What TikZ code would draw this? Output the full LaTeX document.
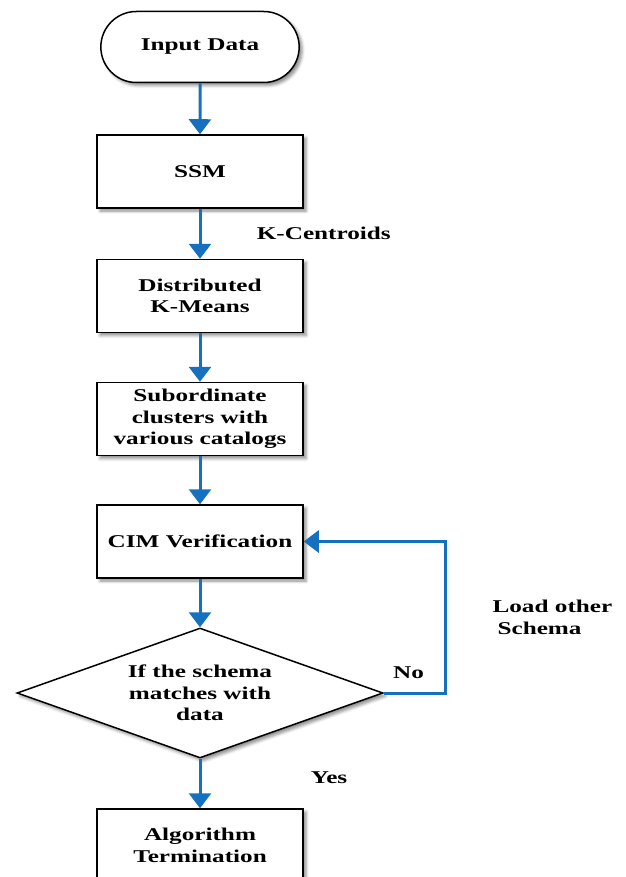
\documentclass[tikz,border=0pt]{standalone}
\usepackage{fontspec}
\setmainfont[FakeStretch=1.4]{Liberation Serif}
\usetikzlibrary{arrows.meta,shapes.geometric,shapes.misc,shadows.blur}
\definecolor{flowblue}{RGB}{22,112,192}

\begin{document}
\begin{tikzpicture}[
		x = 1pt, y = -1pt,
		flow/.style = {draw = flowblue, line width = 3pt, -{Triangle[width = 22pt, length = 15pt]}},
		shade/.style = {blur shadow = {shadow xshift = 3pt, shadow yshift = -3pt, shadow blur radius = 3pt, shadow opacity = 45}},
		block/.style = {draw, line width = 1.5pt, fill = white, minimum width = 206pt, minimum height = 73pt, align = center, shade},
		every node/.style = {font = \fontsize{18}{21.5}\selectfont\bfseries, node distance = 124.5pt}
	]

	\clip (0,0) rectangle (625,877);

	\node (input) [rounded rectangle, draw, line width = 1.5pt, fill = white, minimum width = 205pt, minimum height = 71pt, shade] at (200,47) {Input Data};
	\node (ssm) [below of = input, block] {SSM};
	\node (dist) [below of = ssm, block] {Distributed\\K-Means};
	\node (sub) [below of = dist, node distance = 123pt, block] {Subordinate\\clusters with\\various catalogs};
	\node (cim) [below of = sub, node distance = 122.5pt, block] {CIM Verification};
	\node (cond) [below of = cim, node distance = 151.5pt, diamond, draw, line width = 1.5pt, fill = white, aspect = 2.815, minimum width = 366pt, minimum height = 130pt, inner sep = 0pt, align = center, shade] {If the schema\\matches with\\data};
	\node (term) [below of = cond, node distance = 152.5pt, block] {Algorithm\\Termination};

	\path
	(input) edge [flow] (ssm)
	(ssm) edge [flow] node [right = 52pt] {K-Centroids} (dist)
	(dist) edge [flow] (sub)
	(sub) edge [flow] (cim)
	(cim) edge [flow] (cond)
	(cond) edge [flow] node [right = 106pt, yshift = 6pt] {Yes} (term);

	\draw [flow] (cond.east) -- ++(62,0) node [pos = 0.4, above = 9pt] {No}
		|- node [pos = 0.25, right = 42pt, align = left] {Load other\\\hspace{5pt}Schema} (cim.east);
\end{tikzpicture}
\end{document}
